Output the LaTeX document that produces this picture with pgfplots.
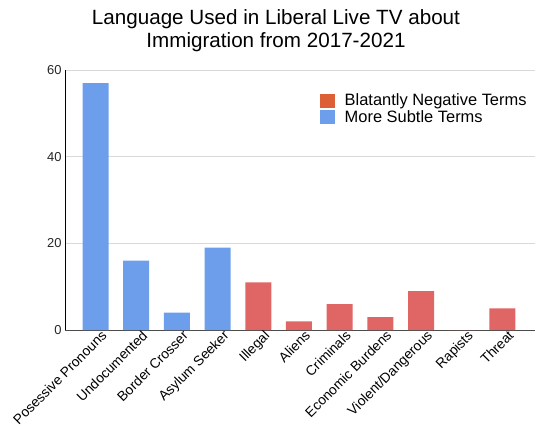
\documentclass[border=0pt]{standalone}
\usepackage{pgfplots}
\pgfplotsset{compat=1.18}
\usepackage{fontspec}
\setmainfont{Liberation Sans}
\definecolor{barblue}{HTML}{6D9EEB}
\definecolor{barred}{HTML}{E06666}
\definecolor{legred}{HTML}{DD5F37}
\definecolor{gridgray}{HTML}{D9D9D9}
\pgfplotsset{sq legend/.style={legend image code/.code={\fill[##1] (0bp,-7bp) rectangle (15bp,7bp);}}}
\begin{document}
\begin{tikzpicture}
\useasboundingbox (-65bp,-97bp) rectangle (474bp,330bp);
\begin{axis}[
  at={(0,0)}, anchor=south west,
  scale only axis, width=470bp, height=260bp,
  xmin=-0.75, xmax=10.8, ymin=0, ymax=60,
  ytick={0,20,40,60},
  xtick={0,...,10},
  xticklabels={Posessive Pronouns, Undocumented, Border Crosser, Asylum Seeker, Illegal, Aliens, Criminals, Economic Burdens, Violent/Dangerous, Rapists, Threat},
  xticklabel style={rotate=45, anchor=north east, font=\fontsize{13.8}{15}\selectfont, inner sep=1bp, xshift=5bp, yshift=-2bp},
  yticklabel style={font=\fontsize{13}{15}\selectfont, text=black!85},
  /pgf/number format/assume math mode=true,
  major tick length=0pt,
  ymajorgrids, grid style={gridgray, line width=0.8bp},
  axis y line=none, axis x line*=bottom,
  hide y axis=false,
  x axis line style={draw=black!70, line width=0.9bp, -},
  axis line style={-},
  ytick style={draw=none}, xtick style={draw=none},
  legend style={at={(0.5426,0.915)}, anchor=north west, draw=none, fill=none, inner sep=0pt,
     nodes={font=\fontsize{16.5}{18}\selectfont, inner sep=1.5bp, anchor=west}, row sep=0bp, column sep=8bp,
     legend cell align=left},
  clip=false,
]
\addplot[ybar, bar width=26bp, fill=barblue, draw=none, forget plot] coordinates {(0,57) (1,16) (2,4) (3,19)};
\addplot[ybar, bar width=26bp, fill=barred, draw=none, forget plot] coordinates {(4,11) (5,2) (6,6) (7,3) (8,9) (9,0) (10,5)};
\addlegendimage{sq legend, fill=legred, draw=none}
\addlegendentry{Blatantly Negative Terms}
\addlegendimage{sq legend, fill=barblue, draw=none}
\addlegendentry{More Subtle Terms}
\node[anchor=base, font=\fontsize{20.7}{24}\selectfont] at ([xshift=211bp,yshift=46bp]rel axis cs:0,1) {Language Used in Liberal Live TV about};
\node[anchor=base, font=\fontsize{20.7}{24}\selectfont] at ([xshift=211bp,yshift=23bp]rel axis cs:0,1) {Immigration from 2017-2021};
\end{axis}
\end{tikzpicture}
\end{document}
